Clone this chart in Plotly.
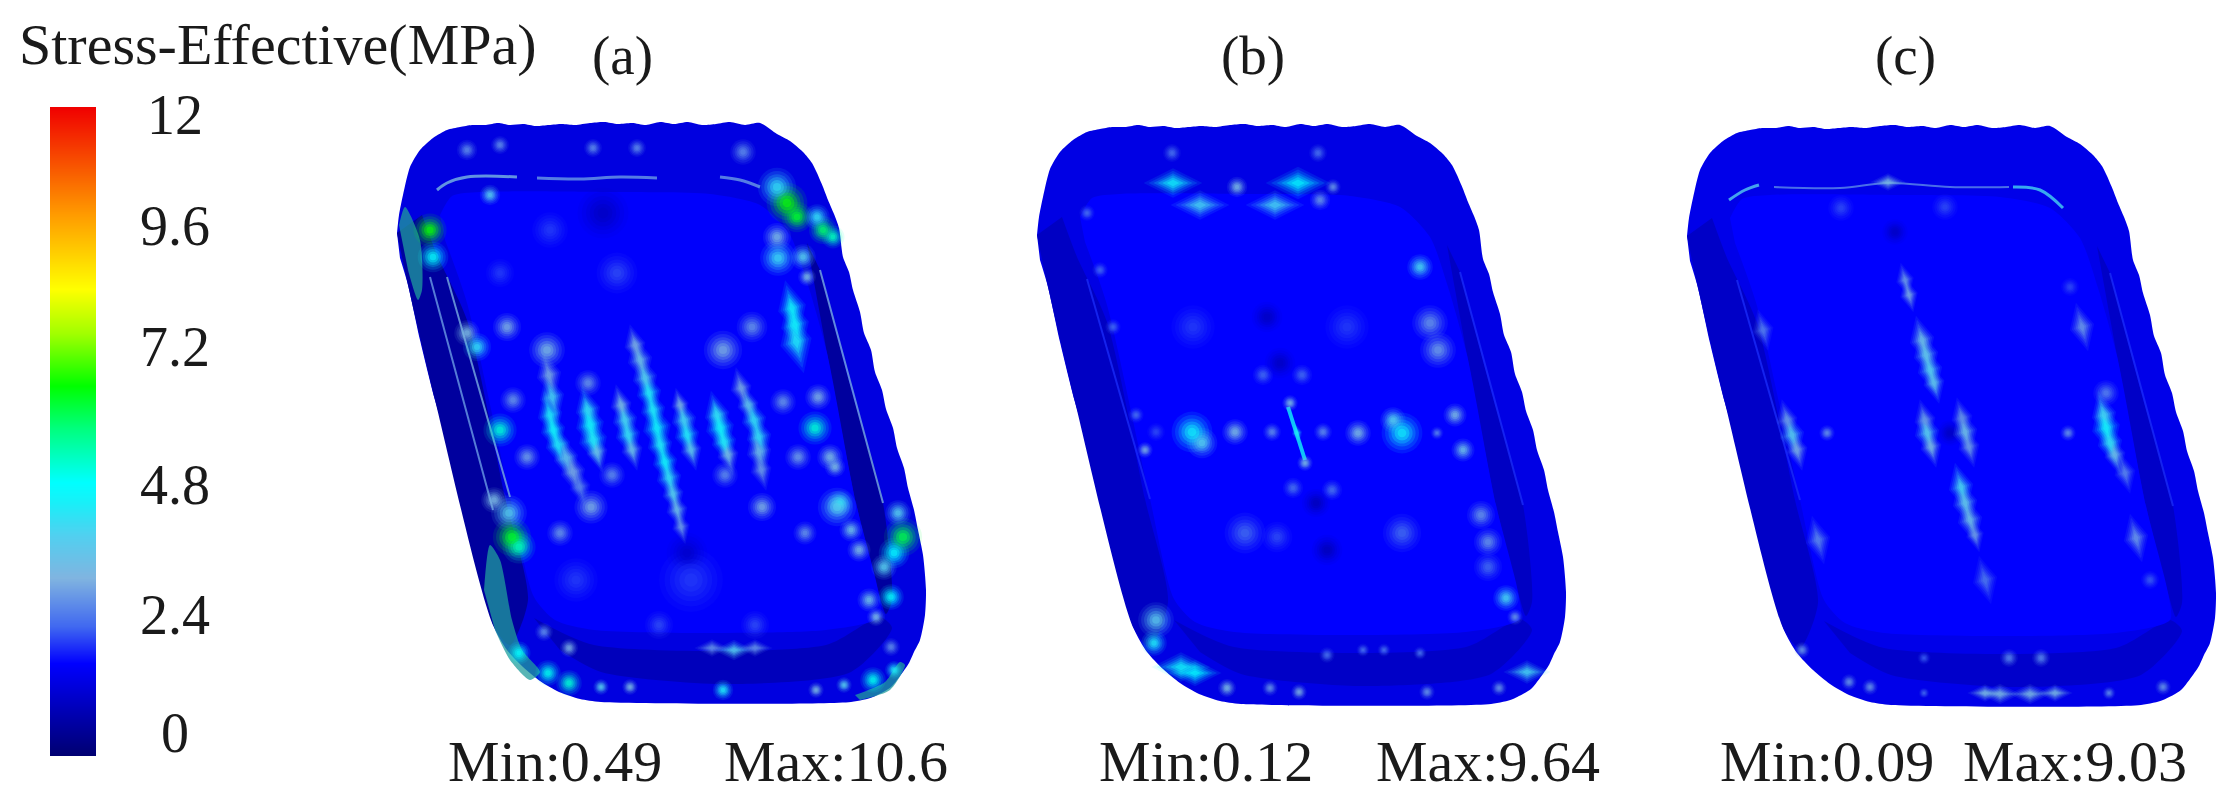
import plotly.graph_objects as go
from plotly.colors import sample_colorscale

# stress scale
stress_stops = [0, 1.72, 2.4, 3.3, 4.1, 4.7, 5.07, 6.05, 6.84, 7.8, 8.63, 9.5, 10.0, 12]
stress_colors = ['#000070', '#0000ff', '#4068f0', '#80b4e0', '#50d0f0', '#18f0f8', '#00ffff', '#00ff80',
                 '#00ff00', '#a0ff00', '#ffff00', '#ffc000', '#ff9c00', '#f00000']
bar_levels = [0, 0.5, 1, 1.5, 2, 2.5, 3, 3.5, 4, 4.5, 5, 5.5, 6, 6.5, 7, 7.5, 8, 8.5, 9, 9.5, 10, 10.5, 11, 11.5, 12]
bar_labels = ['12', '9.6', '7.2', '4.8', '2.4', '0']
bar_label_y = [115, 226, 347, 485, 615, 733]

panel_labels = ['(a)', '(b)', '(c)']
panel_label_x = [622, 1253, 1905]
min_labels = ['Min:0.49', 'Min:0.12', 'Min:0.09']
min_label_x = [555, 1206, 1827]
max_labels = ['Max:10.6', 'Max:9.64', 'Max:9.03']
max_label_x = [836, 1488, 2075]

panel_dx = [0, 640, 1290]
panel_dy = [0, 2, 3]
rim_stress = [1.35, 1.4, 1.45]
floor_stress = [1.68, 1.72, 1.72]
band_stress = [0.55, 1.0, 1.05]
front_stress = [0.9, 1.05, 1.1]
wall_line_stress = [3.2, 2.0, 2.0]

# tray silhouette and surfaces, image position of panel (a)
tray_x = [397, 399, 403, 410, 420, 433, 447, 460, 472, 486, 498, 510, 523, 536, 549, 562, 575, 590, 604, 618, 632,
          646, 660, 674, 688, 702, 716, 730, 745, 760, 777, 790, 803, 812, 817, 823, 828, 834, 839, 843, 849, 853,
          860, 864, 871, 875, 882, 886, 893, 897, 904, 908, 914, 918, 923, 926, 925, 920, 914, 909, 900, 891, 873,
          851, 601, 580, 559, 540, 523, 507, 494, 480, 464, 450, 435, 420, 408, 400]
tray_y = [233, 215, 195, 167, 150, 138, 130, 127, 125, 125, 123, 125, 124, 126, 125, 124, 125, 123, 122, 124, 123,
          125, 122, 124, 122, 125, 124, 122, 125, 123, 134, 141, 152, 163, 173, 187, 200, 214, 228, 257, 272, 290,
          312, 333, 350, 372, 390, 409, 428, 448, 468, 488, 510, 530, 555, 590, 615, 640, 652, 663, 676, 687, 697,
          702, 702, 699, 692, 681, 667, 650, 627, 570, 510, 450, 400, 340, 285, 258]
floor_x = [440, 452, 480, 600, 710, 760, 790, 808, 827, 856, 878, 880, 826, 594, 555, 534, 510, 467, 445]
floor_y = [215, 196, 192, 192, 194, 205, 235, 285, 353, 503, 590, 617, 630, 630, 620, 597, 497, 303, 240]
left_band_x = [397, 408, 435, 494, 510, 528, 505, 467, 437, 422]
left_band_y = [233, 285, 400, 627, 645, 600, 497, 320, 255, 215]
right_band_x = [807, 827, 856, 878, 886, 892, 883, 850, 820]
right_band_y = [243, 353, 503, 590, 614, 600, 503, 385, 270]
front_band_x = [534, 594, 826, 880, 892, 851, 723, 601, 560]
front_band_y = [618, 645, 645, 617, 628, 672, 684, 672, 650]
left_line_x = [447, 510]
left_line_y = [277, 497]
right_line_x = [820, 883]
right_line_y = [270, 503]

# shaded teal patches on the outer wall of panel (a)
patch_color = '#1f9c9c'
patches_a = [
    ([399, 405, 420, 422, 418, 408], [225, 207, 240, 290, 300, 270]),
    ([484, 490, 500, 512, 522, 540, 530, 510, 495], [590, 545, 560, 620, 650, 672, 680, 660, 630]),
    ([855, 885, 900, 905, 890, 860], [695, 682, 662, 665, 690, 700]),
]

# round hot spots per panel: x, y, stress, size
spots_a = [
    (430, 230, 6.9, 26), (433, 257, 5, 24), (467, 333, 3.4, 20), (477, 347, 4.4, 22), (500, 430, 5.4, 26), (513, 400, 2.9, 20),
    (527, 457, 3, 20), (490, 195, 4, 16), (467, 150, 2.8, 16), (500, 145, 2.8, 14), (593, 148, 2.8, 14), (637, 148, 2.8, 14),
    (787, 203, 6.9, 32), (797, 217, 6.6, 24), (777, 187, 4.4, 30), (803, 257, 4, 20), (807, 277, 3.4, 14), (823, 230, 6.2, 22),
    (833, 237, 5.6, 18), (817, 217, 4.4, 20), (743, 152, 2.8, 20), (777, 237, 3.4, 22), (778, 258, 4.3, 28), (783, 402, 2.9, 20),
    (798, 457, 3, 20), (818, 397, 3.2, 20), (815, 428, 5.4, 26), (830, 457, 3.4, 20), (835, 467, 3.4, 16), (840, 503, 4.4, 20),
    (837, 507, 4, 30), (851, 530, 3.6, 18), (859, 550, 3.4, 18), (869, 600, 3.6, 18), (876, 617, 3.4, 14), (512, 537, 6.6, 30),
    (519, 547, 5.6, 26), (509, 513, 4, 28), (494, 500, 3.4, 20), (519, 653, 5, 18), (548, 673, 5.2, 20), (569, 683, 5.4, 20),
    (601, 687, 4, 12), (630, 687, 3.4, 12), (723, 690, 4.6, 16), (816, 690, 3.4, 12), (844, 685, 4, 12), (873, 680, 5.2, 20),
    (894, 670, 4.6, 14), (569, 648, 3.2, 14), (544, 632, 2.8, 14), (891, 647, 2.8, 14), (903, 537, 6.4, 30), (894, 553, 5, 24),
    (898, 513, 4, 20), (891, 597, 5, 20), (884, 567, 4, 20), (691, 580, 2.1, 50), (576, 580, 2.1, 34), (659, 625, 2.2, 22),
    (755, 625, 2.2, 22), (687, 553, 1.1, 32), (603, 213, 1, 40), (550, 230, 2.1, 28), (617, 273, 2.2, 32), (500, 273, 2.1, 22),
    (723, 350, 3.2, 30), (752, 327, 2.9, 24), (547, 350, 3.4, 28), (507, 327, 3.2, 22), (591, 507, 3.2, 26), (762, 507, 3.2, 22),
    (560, 533, 2.9, 20), (612, 475, 2.8, 20), (725, 475, 2.8, 20), (805, 533, 2.9, 18), (588, 383, 2.9, 20),
]
# beads of the long thin streaks, tilted with the tray
ridges_a = [
    (549, 375, 3.2, 14), (552, 397, 4.2, 14), (550, 415, 4.6, 14), (553, 430, 4.8, 14), (558, 445, 4.6, 14), (566, 458, 3.8, 14),
    (573, 472, 3.2, 14), (580, 487, 2.8, 12), (588, 410, 4.4, 14), (590, 425, 4.8, 16), (593, 440, 4.6, 16), (597, 452, 3.6, 12),
    (621, 405, 3.4, 12), (625, 420, 4.2, 14), (628, 435, 4.4, 14), (632, 450, 3.6, 12), (635, 345, 3.2, 12), (640, 360, 3.6, 14),
    (645, 378, 4, 14), (649, 393, 4.6, 14), (653, 410, 4.6, 14), (657, 428, 4.8, 16), (660, 445, 4.6, 14), (665, 462, 4.8, 14),
    (669, 478, 4.4, 14), (673, 494, 4, 12), (677, 510, 3.6, 12), (681, 527, 3, 10), (680, 405, 3.2, 10), (684, 420, 4.2, 14),
    (687, 435, 4.6, 14), (691, 450, 3.8, 12), (717, 415, 4.4, 14), (720, 428, 4.8, 16), (724, 442, 4.6, 14), (728, 455, 3.4, 12),
    (741, 388, 3.2, 12), (748, 405, 3.8, 12), (754, 420, 4.4, 14), (759, 437, 4.4, 14), (759, 452, 3.6, 14), (761, 470, 3, 12),
    (792, 308, 4.8, 16), (795, 325, 4.8, 16), (796, 342, 4.6, 18),
]
ridges_b = [(1297, 433, 4.6, 6)]
ridges_c = [
    (1905, 280, 3, 10), (1909, 295, 3.2, 10), (1922, 340, 3.6, 14), (1926, 355, 3.8, 14), (1930, 370, 4, 14), (1934, 383, 3.8, 12),
    (1925, 420, 3, 12), (1927, 433, 4, 14), (1931, 447, 3.4, 12), (1962, 418, 2.9, 12), (1965, 432, 3.6, 14), (1969, 447, 3, 12),
    (1961, 487, 4.2, 14), (1965, 503, 3.8, 14), (1970, 520, 3.6, 14), (1975, 535, 3, 10), (1985, 580, 2.6, 14), (1787, 420, 3, 12),
    (1792, 435, 4, 14), (1797, 450, 3.2, 12), (1763, 330, 2.7, 12), (1818, 540, 2.8, 14), (2104, 415, 4.2, 14), (2106, 428, 4.8, 16),
    (2110, 443, 4.4, 14), (2115, 455, 3.6, 12), (2082, 327, 3, 14), (2136, 538, 3, 14), (2125, 473, 2.8, 12),
]
spots_b = [
    (1237, 187, 3.4, 16), (1320, 200, 2.9, 16), (1333, 187, 2.9, 12), (1172, 153, 2.5, 14), (1318, 153, 2.5, 14), (1420, 267, 4.2, 20),
    (1430, 323, 2.9, 28), (1438, 350, 3, 28), (1455, 415, 3.4, 18), (1463, 450, 3.6, 18), (1437, 433, 2.7, 10), (1192, 432, 4.8, 32),
    (1202, 443, 4, 24), (1235, 432, 3.4, 20), (1272, 432, 2.8, 14), (1290, 403, 3.4, 12), (1305, 463, 3.4, 12), (1323, 432, 2.8, 14),
    (1358, 433, 3.4, 20), (1402, 433, 4.8, 32), (1393, 420, 4, 20), (1293, 488, 2.5, 16), (1332, 490, 2.5, 16), (1263, 375, 2.4, 16),
    (1302, 375, 2.4, 16), (1267, 317, 1, 24), (1280, 363, 1, 24), (1193, 327, 2.1, 34), (1347, 327, 2.1, 34), (1087, 213, 2.5, 12),
    (1100, 270, 2.4, 12), (1113, 327, 2.4, 12), (1145, 450, 3.2, 12), (1156, 432, 2.2, 14), (1136, 415, 2.5, 12), (1245, 533, 2.4, 32),
    (1277, 537, 2.2, 24), (1402, 533, 2.4, 30), (1327, 550, 0.9, 24), (1316, 503, 0.9, 22), (1481, 515, 2.9, 22), (1488, 542, 2.9, 22),
    (1488, 567, 2.4, 22), (1506, 598, 4.2, 20), (1515, 617, 2.9, 12), (1156, 620, 3.9, 28), (1154, 643, 4.6, 20), (1227, 688, 3.4, 14),
    (1270, 688, 2.9, 12), (1299, 692, 3.2, 12), (1427, 692, 2.9, 12), (1499, 688, 2.9, 12), (1327, 655, 2.5, 12),
    (1363, 650, 2.5, 10), (1384, 650, 2.5, 10), (1420, 653, 2.5, 10),
]
spots_c = [
    (1895, 232, 1, 20), (1950, 433, 1, 20), (1827, 433, 2.9, 12), (2068, 433, 2.9, 12), (2070, 287, 2.2, 14), (2106, 393, 2.7, 20),
    (2150, 580, 2.3, 14), (2009, 658, 2.7, 14), (2041, 658, 2.7, 14), (1924, 658, 2.3, 10), (1924, 693, 2.4, 8), (2109, 693, 2.8, 10),
    (2163, 687, 2.9, 12), (1802, 650, 2.9, 12), (1849, 682, 2.9, 12), (1870, 687, 2.9, 12), (1841, 208, 2.2, 20), (1945, 207, 2.2, 20),
]
# flat spots along the front and back walls
flats_a = [(712, 648, 2.9, 12), (734, 650, 4, 14), (755, 648, 2.9, 12)]
flats_b = [(1173, 183, 4.8, 20), (1200, 205, 4.2, 20), (1275, 205, 4.2, 20), (1298, 183, 5, 22), (1181, 667, 4.8, 20),
           (1195, 673, 5, 18), (1527, 672, 4.2, 16)]
flats_c = [(1888, 182, 3.4, 12), (1985, 693, 3.4, 12), (2000, 694, 3.4, 14), (2030, 694, 3.4, 14), (2055, 693, 3.4, 12)]

# thin streaks per panel: x list, y list, stress, width
streaks_a = [
    ([437, 447, 467, 517], [190, 183, 177, 177], 3.4, 3),
    ([537, 580, 620, 657], [178, 179, 177, 178], 3.0, 3),
    ([720, 740, 760], [177, 180, 187], 3.0, 3),
    ([430, 493], [277, 510], 3.0, 2),
]
streaks_b = [([1288, 1305], [407, 460], 4.8, 4)]
streaks_c = [
    ([1729, 1745, 1759], [200, 190, 185], 4.0, 3),
    ([1774, 1840, 1888, 1950, 2009], [187, 188, 183, 187, 187], 2.8, 2),
    ([2013, 2040, 2063], [187, 190, 208], 4.2, 3),
]
panel_patches = [patches_a, [], []]
panel_spots = [spots_a, spots_b, spots_c]
panel_ridges = [ridges_a, ridges_b, ridges_c]
panel_flats = [flats_a, flats_b, flats_c]
panel_streaks = [streaks_a, streaks_b, streaks_c]

stress_scale = [[v / 12, c] for v, c in zip(stress_stops, stress_colors)]


def stress_color(value):
    return sample_colorscale(stress_scale, value / 12)[0]


def add_surface(fig, xs, ys, dx, dy, color, opacity=1.0):
    fig.add_trace(go.Scatter(x=[x + dx for x in xs], y=[y + dy for y in ys], mode='lines', fill='toself',
                             fillcolor=color, opacity=opacity, line=dict(width=0, shape='spline', smoothing=0.7),
                             hoverinfo='skip', showlegend=False))


def add_line(fig, xs, ys, value, width, opacity=1.0):
    fig.add_trace(go.Scatter(x=xs, y=ys, mode='lines', opacity=opacity, hoverinfo='skip', showlegend=False,
                             line=dict(color=stress_color(value), width=width, shape='spline')))


def add_spots(fig, spots, symbol='circle', angle=0, grow=1.0):
    xs, ys, vals, sizes = zip(*spots)
    # soft edge: same spots several times, getting smaller and stronger
    for scale, opacity in [(1.5, 0.1), (1.25, 0.15), (1.0, 0.2), (0.78, 0.28), (0.55, 0.4), (0.32, 0.5)]:
        fig.add_trace(go.Scatter(x=xs, y=ys, mode='markers', hoverinfo='skip', showlegend=False,
                                 marker=dict(color=vals, cmin=0, cmax=12, colorscale=stress_scale, symbol=symbol,
                                             angle=angle, size=[s * scale * grow for s in sizes], opacity=opacity,
                                             line_width=0)))


fig = go.Figure()

for i in range(3):
    dx, dy = panel_dx[i], panel_dy[i]
    add_surface(fig, tray_x, tray_y, dx, dy, stress_color(rim_stress[i]))
    add_surface(fig, left_band_x, left_band_y, dx, dy, stress_color(band_stress[i]))
    add_surface(fig, right_band_x, right_band_y, dx, dy, stress_color(band_stress[i]))
    add_surface(fig, front_band_x, front_band_y, dx, dy, stress_color(front_stress[i]))
    add_surface(fig, floor_x, floor_y, dx, dy, stress_color(floor_stress[i]))
    for xs, ys in panel_patches[i]:
        add_surface(fig, xs, ys, 0, 0, patch_color, 0.75)
    add_line(fig, [x + dx for x in left_line_x], [y + dy for y in left_line_y], wall_line_stress[i], 2, 0.8)
    add_line(fig, [x + dx for x in right_line_x], [y + dy for y in right_line_y], wall_line_stress[i], 2, 0.8)
    for xs, ys, value, width in panel_streaks[i]:
        add_line(fig, xs, ys, value, width, 0.8)
    add_spots(fig, panel_spots[i], grow=0.85)
    add_spots(fig, panel_ridges[i], 'diamond-tall', -14, grow=1.7)
    add_spots(fig, panel_flats[i], 'diamond-wide', grow=1.4)

# colour bar as a small heatmap on its own axes
fig.add_trace(go.Heatmap(x=[0, 1], y=bar_levels, z=[[v, v] for v in bar_levels], zmin=0, zmax=12, zsmooth='best',
                         colorscale=stress_scale, showscale=False, hoverinfo='skip', xaxis='x2', yaxis='y2'))

serif = 'Liberation Serif'
notes = [dict(x=278, y=44, text='Stress-Effective(MPa)', size=58)]
notes += [dict(x=175, y=y, text=t, size=56) for t, y in zip(bar_labels, bar_label_y)]
notes += [dict(x=x, y=55, text=t, size=55) for t, x in zip(panel_labels, panel_label_x)]
notes += [dict(x=x, y=761, text=t, size=58) for t, x in zip(min_labels, min_label_x)]
notes += [dict(x=x, y=761, text=t, size=58) for t, x in zip(max_labels, max_label_x)]
for n in notes:
    fig.add_annotation(x=n['x'], y=n['y'], text=n['text'], showarrow=False, xref='x', yref='y',
                       font=dict(family=serif, size=n['size'], color='#1a1a1a'))

fig.update_layout(width=2233, height=804, margin=dict(l=0, r=0, t=0, b=0), paper_bgcolor='white', plot_bgcolor='white',
                  xaxis=dict(range=[0, 2233], visible=False),
                  yaxis=dict(range=[804, 0], visible=False),
                  xaxis2=dict(domain=[50 / 2233, 96 / 2233], range=[0, 1], visible=False, anchor='y2'),
                  yaxis2=dict(domain=[48 / 804, 697 / 804], range=[0, 12], visible=False, anchor='x2'))

fig.write_html("out.html", post_script="document.body.style.margin='0';", config=dict(displayModeBar=False))
